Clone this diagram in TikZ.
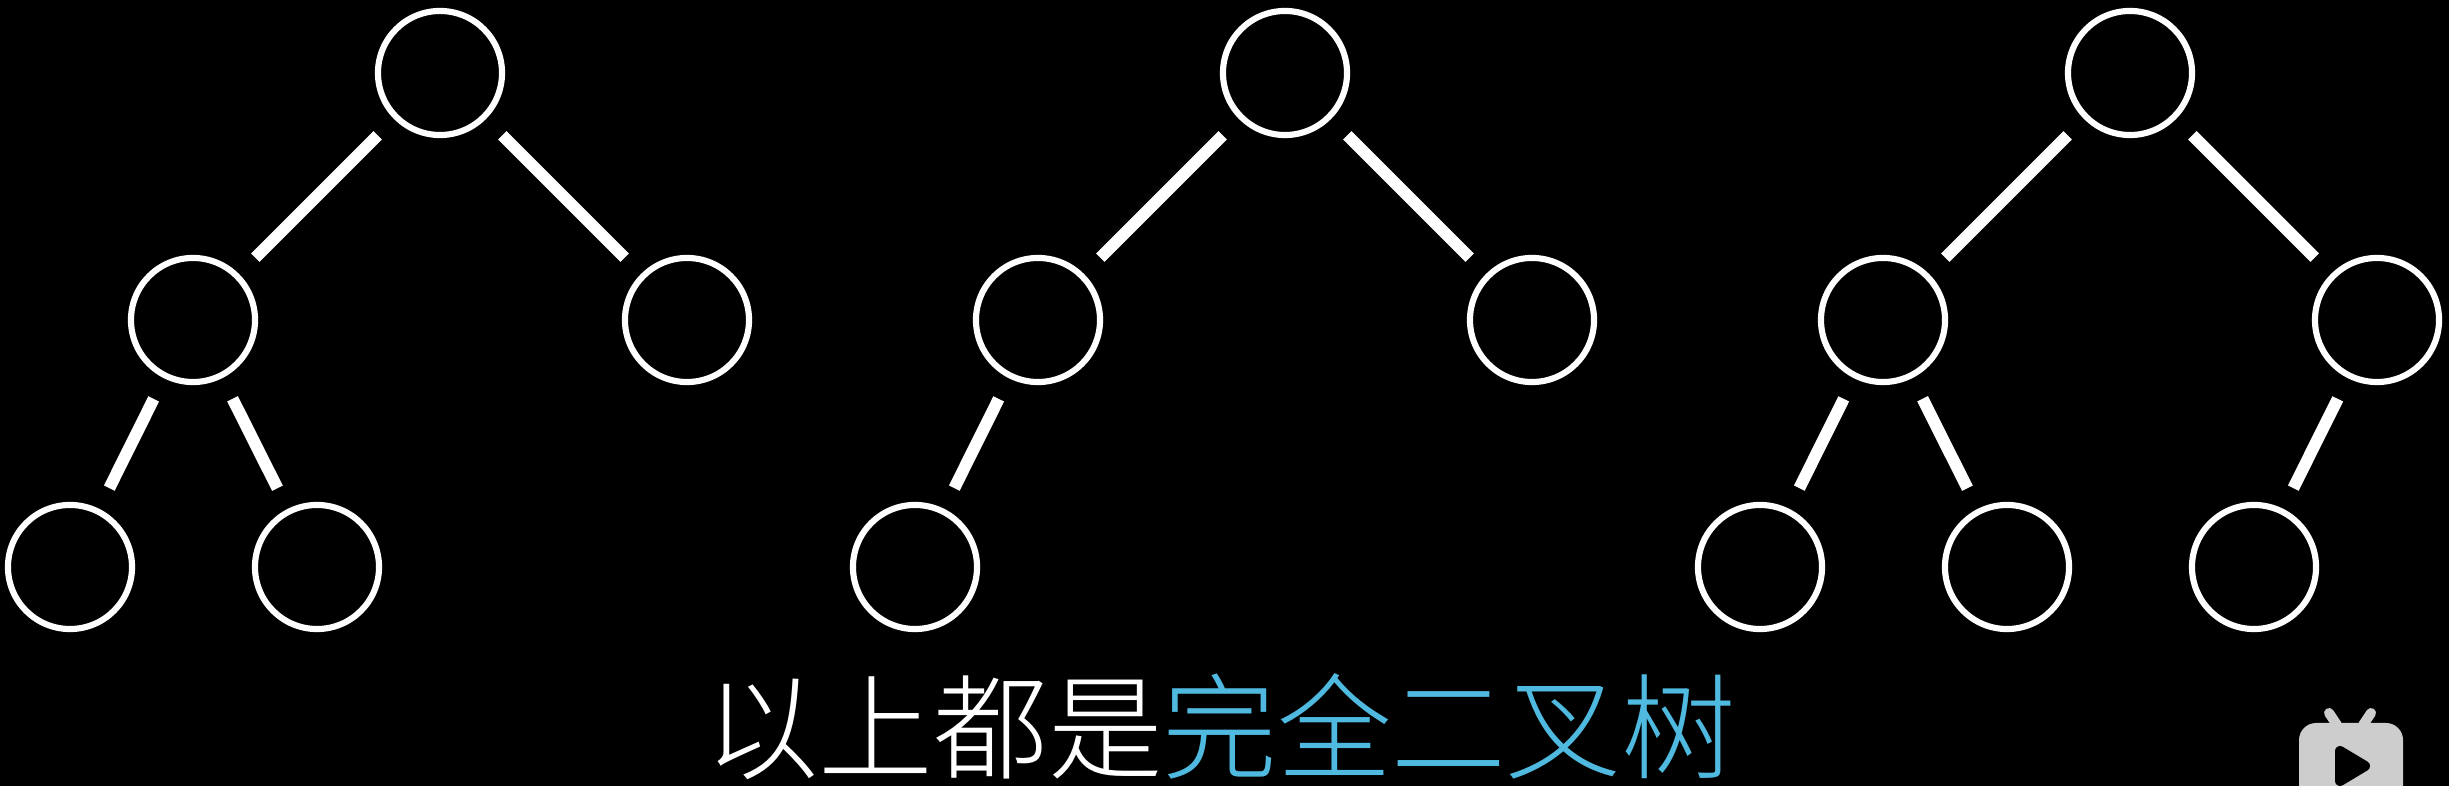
\documentclass[tikz,border=0pt]{standalone}
\usepackage{fontspec}
\newfontfamily\cjk[UprightFont=* Light]{Noto Sans CJK SC}
\usetikzlibrary{positioning}
\definecolor{termblue}{HTML}{4FB9DF}
\definecolor{logogray}{HTML}{CDCDCD}
\tikzset{
  treenode/.style={circle, draw=white, line width=1.75pt, minimum size=1.24cm, inner sep=0pt},
  treeedge/.style={draw=white, line width=3.4pt, shorten >=0.23cm, shorten <=0.23cm},
}

\begin{document}
\begin{tikzpicture}[x=0.01cm, y=-0.01cm]
\useasboundingbox (0,0) rectangle (2449,786);
\fill[black] (0,0) rectangle (2449,786);
% Upper part of every tree
\foreach \t/\dx in {a/0,b/845,c/1690} {
  \node[treenode] (root\t) at (440+\dx,73) {};
  \node[treenode] (left\t) at (193+\dx,320) {};
  \node[treenode] (right\t) at (687+\dx,320) {};
  \draw[treeedge] (root\t) -- (left\t);
  \draw[treeedge] (root\t) -- (right\t);
  \node[treenode] (leafa\t) at (70+\dx,567) {};
  \draw[treeedge] (left\t) -- (leafa\t);
}
% Remaining leaves
\foreach \t/\dx in {a/0,c/1690} {
  \node[treenode] (leafb\t) at (317+\dx,567) {};
  \draw[treeedge] (left\t) -- (leafb\t);
}
\node[treenode] (leafcc) at (2254,567) {};
\draw[treeedge] (rightc) -- (leafcc);
% Caption
\node[inner sep=0pt, text=white, font=\cjk\fontsize{32.6pt}{36pt}\selectfont] (caption) at (1220,727)
  {以上都是\textcolor{termblue}{完全二叉树}};
% Logo
\draw[logogray, line width=2.85pt, line cap=round] (2337,725) -- (2329,713);
\draw[logogray, line width=2.85pt, line cap=round] (2363,725) -- (2371,713);
\fill[logogray] (2299,786) [rounded corners=0.17cm] -- (2299,723) -- (2403,723) [sharp corners] -- (2403,786) -- cycle;
\filldraw[black, line width=2.85pt, line join=round] (2340,751) -- (2365,766) -- (2340,781) -- cycle;
\end{tikzpicture}
\end{document}
